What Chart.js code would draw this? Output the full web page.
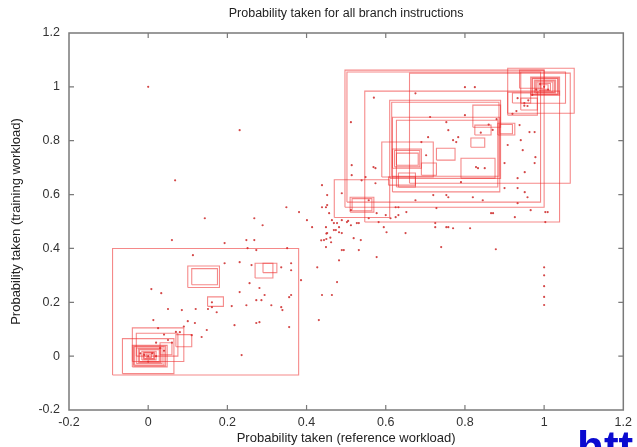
<!DOCTYPE html>
<html>
<head>
<meta charset="utf-8">
<script src="https://cdn.jsdelivr.net/npm/chart.js@4"></script>
<style>
  html, body { margin: 0; padding: 0; background: #fff; overflow: hidden; }
  #wrap { position: relative; width: 637px; height: 447px; overflow: hidden; }
  #url { position: absolute; left: 577px; top: 425px; font: bold 44px "Liberation Sans", Arial, sans-serif;
         color: #0a0ad0; line-height: 44px; white-space: nowrap; }
</style>
</head>
<body>
<div id="wrap">
  <canvas id="c" width="637" height="447"></canvas>
  <div id="url">htt</div>
</div>
<script>
/* ========= Daten ========= */
const TITLE = "Probability taken for all branch instructions";
const X_TITLE = "Probability taken (reference workload)";
const Y_TITLE = "Probability taken (training workload)";
const xTicks = [-0.2, 0, 0.2, 0.4, 0.6, 0.8, 1, 1.2];
const yTicks = [-0.2, 0, 0.2, 0.4, 0.6, 0.8, 1, 1.2];

// boxes: [x1, y1, x2, y2]
const boxesLow = [
  [-0.09, -0.07, 0.38, 0.40],
  [0.10, 0.255, 0.18, 0.335], [0.11, 0.265, 0.175, 0.325],
  [0.15, 0.185, 0.19, 0.22],
  [0.27, 0.29, 0.315, 0.345], [0.29, 0.31, 0.325, 0.345],
  [-0.065, -0.065, 0.065, 0.065], [-0.04, -0.02, 0.09, 0.105],
  [-0.03, 0.0, 0.075, 0.085], [0.07, 0.035, 0.11, 0.08], [0.03, 0.005, 0.06, 0.05],
  [-0.04, -0.04, 0.048, 0.04], [-0.037, -0.036, 0.044, 0.037], [-0.035, -0.033, 0.04, 0.035],
  [-0.03, -0.027, 0.035, 0.03], [-0.025, -0.023, 0.031, 0.027], [-0.022, -0.02, 0.028, 0.024],
  [-0.016, -0.014, 0.02, 0.018], [-0.012, -0.011, 0.016, 0.014], [-0.01, -0.009, 0.014, 0.012],
  [-0.005, -0.005, 0.008, 0.007]
];
const boxesMid = [
  [0.47, 0.515, 0.61, 0.655], [0.51, 0.535, 0.57, 0.59], [0.515, 0.54, 0.565, 0.585],
  [0.59, 0.665, 0.72, 0.795], [0.617, 0.698, 0.69, 0.769], [0.622, 0.703, 0.686, 0.764],
  [0.627, 0.709, 0.682, 0.754], [0.632, 0.628, 0.675, 0.68], [0.69, 0.672, 0.728, 0.717],
  [0.728, 0.728, 0.775, 0.772], [0.79, 0.661, 0.876, 0.735], [0.815, 0.776, 0.85, 0.81],
  [0.825, 0.821, 0.866, 0.858], [0.883, 0.821, 0.926, 0.865], [0.888, 0.826, 0.92, 0.86],
  [0.82, 0.85, 0.89, 0.932], [0.607, 0.635, 0.675, 0.665]
];
const boxesHigh = [
  [0.61, 0.66, 0.89, 0.95], [0.615, 0.668, 0.886, 0.943], [0.617, 0.61, 0.888, 0.887],
  [0.627, 0.628, 0.883, 0.876], [0.497, 0.553, 1.0, 1.062], [0.502, 0.572, 0.991, 1.055],
  [0.547, 0.498, 1.039, 0.984], [0.66, 0.642, 1.066, 1.051], [0.908, 0.902, 1.076, 1.069],
  [0.908, 0.895, 0.983, 0.98], [0.941, 0.939, 1.054, 1.055], [0.938, 0.995, 1.0, 1.062],
  [0.92, 0.94, 0.966, 0.977], [0.941, 0.914, 0.983, 0.958],
  [0.966, 0.969, 1.039, 1.036], [0.969, 0.971, 1.036, 1.033], [0.971, 0.973, 1.034, 1.031],
  [0.976, 0.977, 1.029, 1.025], [0.979, 0.979, 1.026, 1.022], [0.982, 0.982, 1.022, 1.018],
  [0.987, 0.987, 1.016, 1.013], [0.992, 0.991, 1.01, 1.008]
];

// single branches: [x, y]
const dotsLow = [
  [0.060, 0.431], [0.193, 0.420], [0.248, 0.431], [0.268, 0.431], [0.251, 0.401], [0.273, 0.394],
  [0.351, 0.401], [0.113, 0.375], [0.193, 0.345], [0.231, 0.349], [0.261, 0.338], [0.336, 0.330],
  [0.361, 0.345], [0.386, 0.282], [0.361, 0.227], [0.008, 0.249], [0.033, 0.234], [0.050, 0.175],
  [0.085, 0.171], [0.120, 0.175], [0.151, 0.175], [0.173, 0.163], [0.211, 0.186], [0.248, 0.189],
  [0.273, 0.208], [0.281, 0.253], [0.231, 0.238], [0.256, 0.271], [0.294, 0.227], [0.311, 0.189],
  [0.339, 0.171], [0.273, 0.123], [0.118, 0.123], [0.148, 0.097], [0.135, 0.071], [0.110, 0.078],
  [0.013, 0.134], [0.025, 0.104], [0.080, 0.089], [0.236, 0.004], [0.161, 0.200], [0.161, 0.182],
  [0.356, 0.219], [0.336, 0.182], [0.286, 0.208], [0.356, 0.108], [0.281, 0.126], [0.218, 0.115],
  [0.431, 0.134], [0.0, 0.0], [0.01, 0.01], [-0.01, 0.005], [0.02, 0.0], [0.03, 0.03], [0.04, 0.02],
  [0.05, 0.06], [0.06, 0.05], [0.07, 0.09], [0.02, 0.05], [-0.02, 0.01], [0.0, -0.02], [0.09, 0.11],
  [0.10, 0.13], [0.04, 0.08], [0.0, 1.0], [0.231, 0.839], [0.068, 0.653],
  [1.0, 0.33], [1.0, 0.30], [1.0, 0.26], [1.0, 0.22], [1.0, 0.19]
];
const dotsMid = [
  [0.143, 0.512], [0.268, 0.512], [0.289, 0.486], [0.349, 0.553], [0.381, 0.535], [0.401, 0.505],
  [0.414, 0.479], [0.439, 0.553], [0.449, 0.479], [0.482, 0.479], [0.489, 0.457], [0.494, 0.394],
  [0.482, 0.356], [0.427, 0.330], [0.477, 0.275], [0.439, 0.227], [0.464, 0.227], [0.361, 0.319],
  [0.437, 0.43], [0.45, 0.435], [0.46, 0.44], [0.45, 0.455], [0.439, 0.635], [0.452, 0.598],
  [0.452, 0.561], [0.464, 0.505], [0.477, 0.494], [0.489, 0.505], [0.502, 0.498], [0.505, 0.502],
  [0.512, 0.486], [0.527, 0.494], [0.537, 0.431], [0.482, 0.46], [0.469, 0.468], [0.452, 0.457],
  [0.444, 0.431], [0.449, 0.405], [0.462, 0.423], [0.489, 0.394], [0.519, 0.438], [0.582, 0.498],
  [0.595, 0.479], [0.602, 0.46], [0.612, 0.512], [0.625, 0.553], [0.632, 0.524], [0.725, 0.494],
  [0.753, 0.479], [0.65, 0.457], [0.577, 0.368], [0.74, 0.405], [0.532, 0.394], [0.512, 0.542],
  [0.557, 0.579], [0.489, 0.605], [0.539, 0.653], [0.574, 0.642], [0.514, 0.672], [0.569, 0.702],
  [0.514, 0.709], [0.675, 0.579], [0.728, 0.55], [0.758, 0.59], [0.833, 0.698], [0.951, 0.683],
  [0.976, 0.717], [0.933, 0.624], [0.845, 0.579], [0.958, 0.59], [1.003, 0.535], [0.871, 0.531],
  [0.926, 0.516], [1.003, 0.498], [0.758, 0.479], [0.77, 0.475], [0.813, 0.475], [0.878, 0.397]
];
const dotsHigh = [
  [0.57, 0.96], [0.675, 0.976], [0.512, 0.869], [0.712, 0.888], [0.753, 0.869], [0.758, 0.839],
  [0.77, 0.802], [0.778, 0.795], [0.783, 0.813], [0.707, 0.813], [0.69, 0.795], [0.702, 0.746],
  [0.8, 0.895], [0.825, 0.999], [0.80, 0.999], [0.933, 0.958], [0.95, 0.94], [0.958, 0.929],
  [0.938, 0.858], [0.963, 0.832], [0.976, 0.832], [0.941, 0.802], [0.908, 0.784], [0.946, 0.765],
  [0.978, 0.739], [0.933, 0.661], [0.951, 0.609], [0.866, 0.531], [0.82, 0.59], [0.753, 0.598],
  [0.79, 0.646], [0.828, 0.702], [0.85, 0.698], [0.9, 0.717], [0.9, 0.624], [0.933, 0.568],
  [0.966, 0.542], [1.009, 0.535], [0.574, 0.698], [0.549, 0.665], [0.72, 0.598], [0.632, 0.553],
  [0.6, 0.524], [0.652, 0.535], [0.725, 0.479], [0.449, 0.553], [0.457, 0.531], [0.469, 0.494],
  [0.532, 0.494], [0.557, 0.512], [0.577, 0.531], [0.625, 0.516], [0.474, 0.468],
  [0.98, 0.99], [1.0, 1.0], [0.99, 1.01], [1.01, 0.99], [0.97, 0.97], [0.96, 0.95], [0.95, 0.93],
  [0.93, 0.91], [0.92, 0.9], [0.88, 0.88], [0.86, 0.86], [0.84, 0.83], [0.87, 0.84]
];

/* ========= Hilfsfunktionen ========= */
const BOX_COLOR = "rgba(236, 40, 40, 0.55)";
const DOT_COLOR = "rgba(205, 40, 40, 0.85)";
const FRAME_COLOR = "#7a7a7a";
const FONT = '"Liberation Sans", Arial, sans-serif';

function boxDataset(b) {
  const [x1, y1, x2, y2] = b;
  return {
    type: "line",
    data: [{x: x1, y: y1}, {x: x2, y: y1}, {x: x2, y: y2}, {x: x1, y: y2}, {x: x1, y: y1}],
    borderColor: BOX_COLOR,
    borderWidth: 1.1,
    pointRadius: 0,
    fill: false,
    tension: 0
  };
}

function dotDataset(list) {
  return {
    type: "scatter",
    data: list.map(p => ({x: p[0], y: p[1]})),
    backgroundColor: DOT_COLOR,
    borderColor: DOT_COLOR,
    borderWidth: 0,
    pointRadius: 1.1
  };
}

function fmt(v) { return String(Math.round(v * 10) / 10); }

/* ========= Rahmen, Ticks, Titel (gnuplot-Stil) ========= */
const framePlugin = {
  id: "frame",
  afterDraw(chart) {
    const {ctx, chartArea: a, scales: {x, y}} = chart;
    ctx.save();
    ctx.strokeStyle = FRAME_COLOR;
    ctx.lineWidth = 1.5;
    ctx.strokeRect(a.left, a.top, a.right - a.left, a.bottom - a.top);
    ctx.lineWidth = 1.2;
    const len = 5;
    ctx.beginPath();
    xTicks.slice(1, -1).forEach(v => {
      const px = x.getPixelForValue(v);
      ctx.moveTo(px, a.bottom); ctx.lineTo(px, a.bottom - len);
      ctx.moveTo(px, a.top); ctx.lineTo(px, a.top + len);
    });
    yTicks.slice(1, -1).forEach(v => {
      const py = y.getPixelForValue(v);
      ctx.moveTo(a.left, py); ctx.lineTo(a.left + len, py);
      ctx.moveTo(a.right, py); ctx.lineTo(a.right - len, py);
    });
    ctx.stroke();
    // title over the plot area
    ctx.fillStyle = "#222";
    ctx.font = "12.5px " + FONT;
    ctx.textAlign = "center";
    ctx.textBaseline = "middle";
    ctx.fillText(TITLE, (a.left + a.right) / 2, 14);
    ctx.restore();
  }
};

/* ========= Chart ========= */
const datasets = []
  .concat(boxesLow.map(boxDataset))
  .concat(boxesMid.map(boxDataset))
  .concat(boxesHigh.map(boxDataset));
datasets.push(dotDataset(dotsLow), dotDataset(dotsMid), dotDataset(dotsHigh));

const tickFont = { family: FONT, size: 12.5 };
const titleFont = { family: FONT, size: 13 };

new Chart(document.getElementById("c"), {
  type: "scatter",
  data: { datasets },
  options: {
    responsive: false,
    animation: false,
    layout: { padding: { top: 33, right: 10, left: 0, bottom: 0 } },
    plugins: { legend: { display: false }, tooltip: { enabled: false }, title: { display: false } },
    scales: {
      x: {
        type: "linear", min: -0.2, max: 1.2,
        afterBuildTicks: s => { s.ticks = xTicks.map(v => ({value: v})); },
        afterFit: s => { s.height = 37; },
        grid: { display: false, drawTicks: false },
        border: { display: false },
        ticks: { color: "#333", font: tickFont, padding: 5, callback: v => fmt(v), maxRotation: 0, autoSkip: false },
        title: { display: true, text: X_TITLE, color: "#222", font: titleFont, padding: { top: 0, bottom: 1 } }
      },
      y: {
        type: "linear", min: -0.2, max: 1.2,
        afterBuildTicks: s => { s.ticks = yTicks.map(v => ({value: v})); },
        afterFit: s => { s.width = 69; },
        grid: { display: false, drawTicks: false },
        border: { display: false },
        ticks: { color: "#333", font: tickFont, padding: 9, callback: v => fmt(v), autoSkip: false },
        title: { display: true, text: Y_TITLE, color: "#222", font: titleFont, padding: { top: 9, bottom: 0 } }
      }
    }
  },
  plugins: [framePlugin]
});
</script>
</body>
</html>
